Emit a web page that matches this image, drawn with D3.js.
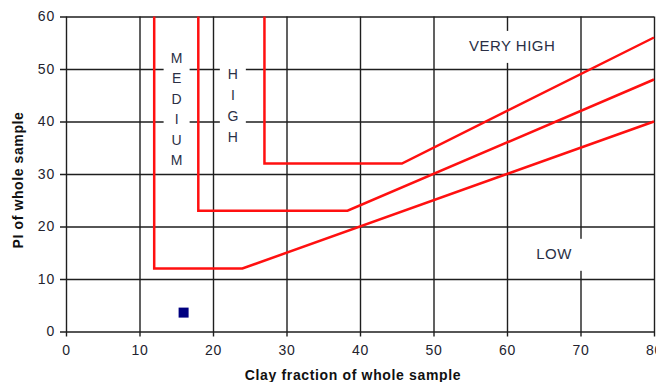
<!DOCTYPE html>
<html>
<head>
<meta charset="utf-8">
<script src="https://cdn.jsdelivr.net/npm/d3@7"></script>
<style>
  body { margin: 0; background: #fff; }
  svg { display: block; }
</style>
</head>
<body>
<div id="chart"></div>
<script>
// axis ticks
var xTicks = [0, 10, 20, 30, 40, 50, 60, 70, 80];
var yTicks = [0, 10, 20, 30, 40, 50, 60];

// zone boundaries (clay fraction, PI)
var lowMediumX = [12, 12, 24, 80];
var lowMediumY = [60, 12, 12, 40];
var mediumHighX = [18, 18, 38.3, 80];
var mediumHighY = [60, 23, 23, 48];
var highVeryHighX = [27, 27, 45.7, 80];
var highVeryHighY = [60, 32, 32, 56];

// the sample
var sampleX = [16];
var sampleY = [3.6];

var zoneNames = ["LOW", "MEDIUM", "HIGH", "VERY HIGH"];

var W = 656, H = 382;
var margin = {top: 16.5, right: 2, bottom: 50.5, left: 66};
var width = W - margin.left - margin.right,
    height = H - margin.top - margin.bottom;

var x = d3.scaleLinear().domain([0, 80]).range([0, width]);
var y = d3.scaleLinear().domain([0, 60]).range([height, 0]);

var svg = d3.select("#chart").append("svg")
    .attr("width", W)
    .attr("height", H);

var g = svg.append("g")
    .attr("transform", "translate(" + margin.left + "," + margin.top + ")");

var gridColor = "#1e1e1e";

// x axis + vertical grid
var xAxis = g.append("g")
    .attr("transform", "translate(0," + height + ")")
    .call(d3.axisBottom(x).tickValues(xTicks).tickSizeInner(-height).tickSizeOuter(0).tickPadding(13.5));
xAxis.select(".domain").remove();
xAxis.selectAll(".tick line")
    .attr("y1", 5)
    .attr("stroke", gridColor)
    .attr("stroke-width", 1.4);

// y axis + horizontal grid
var yAxis = g.append("g")
    .call(d3.axisLeft(y).tickValues(yTicks).tickSizeInner(-width).tickSizeOuter(0).tickPadding(11));
yAxis.select(".domain").remove();
yAxis.selectAll(".tick line")
    .attr("x1", -6)
    .attr("stroke", gridColor)
    .attr("stroke-width", 1.4);

svg.selectAll(".tick text")
    .attr("font-family", "Liberation Sans, Arial, sans-serif")
    .attr("font-size", 14)
    .attr("letter-spacing", "0.8px")
    .attr("fill", "#23232e");

// zone labels, each on a white patch that breaks the grid
var labelFont = "Liberation Sans, Arial, sans-serif";

function stackedLabel(word, cx, topY, step) {
    var letters = word.split("");
    g.append("rect")
        .attr("x", x(cx) - 13)
        .attr("y", y(topY) - 10)
        .attr("width", 26)
        .attr("height", step * (letters.length - 1) + 20)
        .attr("fill", "#fff");
    g.selectAll(null)
        .data(letters)
        .enter().append("text")
        .attr("x", x(cx))
        .attr("y", function (d, i) { return y(topY) + i * step; })
        .attr("dy", "0.36em")
        .attr("text-anchor", "middle")
        .attr("font-family", labelFont)
        .attr("font-size", 14)
        .attr("fill", "#2a2f45")
        .text(function (d) { return d; });
}

function boxLabel(word, cx, cy, boxW) {
    g.append("rect")
        .attr("x", x(cx) - boxW / 2)
        .attr("y", y(cy) - 15)
        .attr("width", boxW)
        .attr("height", 32)
        .attr("fill", "#fff");
    g.append("text")
        .attr("x", x(cx))
        .attr("y", y(cy))
        .attr("dy", "0.36em")
        .attr("text-anchor", "middle")
        .attr("font-family", labelFont)
        .attr("font-size", 15)
        .attr("letter-spacing", "0.5px")
        .attr("fill", "#2a2f45")
        .text(word);
}

stackedLabel(zoneNames[1], 15.05, 52.1, 20.4);
stackedLabel(zoneNames[2], 22.7, 49.1, 21);
boxLabel(zoneNames[3], 60.7, 54.4, 104);
boxLabel(zoneNames[0], 66.4, 14.8, 56);

// boundary lines
var line = d3.line()
    .x(function (d) { return x(d[0]); })
    .y(function (d) { return y(d[1]); });

var boundaries = [
    d3.zip(lowMediumX, lowMediumY),
    d3.zip(mediumHighX, mediumHighY),
    d3.zip(highVeryHighX, highVeryHighY)
];

g.selectAll(".boundary")
    .data(boundaries)
    .enter().append("path")
    .attr("class", "boundary")
    .attr("d", line)
    .attr("fill", "none")
    .attr("stroke", "#ff1010")
    .attr("stroke-width", 2.5)
    .attr("stroke-linejoin", "miter");

// sample point
g.selectAll(".sample")
    .data(d3.zip(sampleX, sampleY))
    .enter().append("rect")
    .attr("class", "sample")
    .attr("x", function (d) { return x(d[0]) - 5; })
    .attr("y", function (d) { return y(d[1]) - 5; })
    .attr("width", 10)
    .attr("height", 10)
    .attr("fill", "#000080");

// axis titles
svg.append("text")
    .attr("x", margin.left + width / 2 - 7)
    .attr("y", 380)
    .attr("text-anchor", "middle")
    .attr("font-family", labelFont)
    .attr("font-weight", "bold")
    .attr("font-size", 14)
    .attr("letter-spacing", "0.65px")
    .attr("fill", "#111")
    .text("Clay fraction of whole sample");

svg.append("text")
    .attr("transform", "translate(23," + (margin.top + height / 2 + 6) + ") rotate(-90)")
    .attr("text-anchor", "middle")
    .attr("font-family", labelFont)
    .attr("font-weight", "bold")
    .attr("font-size", 14)
    .attr("letter-spacing", "0.6px")
    .attr("fill", "#111")
    .text("PI of whole sample");
</script>
</body>
</html>
